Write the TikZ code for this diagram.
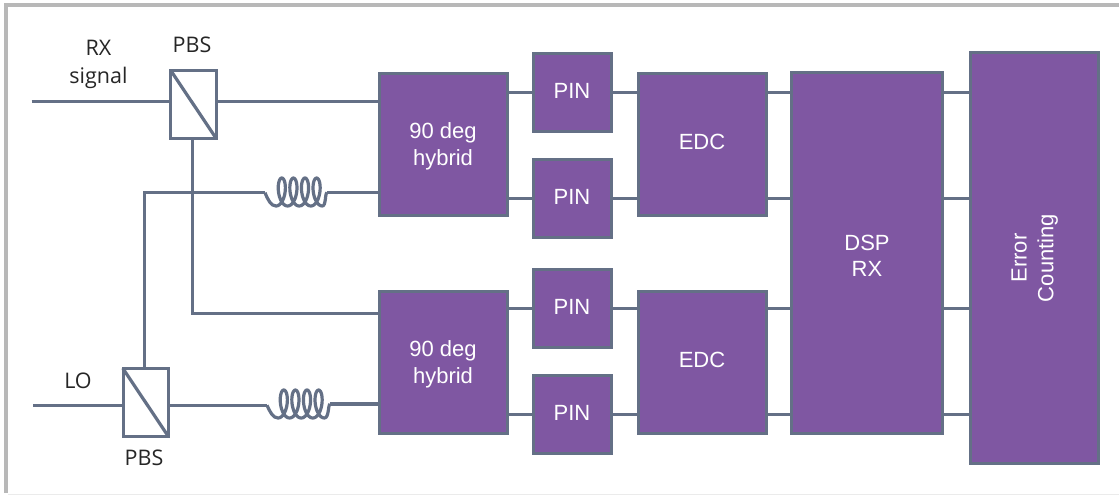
\documentclass[tikz,border=0pt]{standalone}
\usepackage{fontspec}
\setmainfont{Liberation Sans}
\newfontfamily\labelfont{Open Sans}
\definecolor{boxfill}{HTML}{7F57A2}
\definecolor{wire}{HTML}{647086}
\definecolor{framecol}{HTML}{B8B8B8}
\newcommand{\lowerfirst}{\rule{0pt}{19.5pt}}
\tikzset{
  bx/.style={draw=wire,fill=boxfill,line width=3pt,outer sep=0pt,inner sep=0pt,text=white,align=center,font=\fontsize{22}{26.7}\selectfont},
  pinbox/.style={bx,minimum width=78pt,minimum height=78pt,text depth=2.4pt},
  bigbox/.style={bx,minimum width=128pt,minimum height=142pt},
  pbsbox/.style={draw=wire,fill=white,line width=3pt,outer sep=0pt,inner sep=0pt,minimum width=45.5pt,minimum height=68pt},
  wireline/.style={draw=wire,line width=3.2pt},
  thinwire/.style={draw=wire,line width=2.8pt},
  lab/.style={text=black!85,align=center,inner sep=0pt,font=\labelfont\fontsize{21.5}{28}\selectfont}
}
\begin{document}
\begin{tikzpicture}[x=1pt,y=-1pt]
\useasboundingbox (0,0) rectangle (1119,495);
\fill[white] (0,0) rectangle (1119,495);
% frame
\draw[framecol,line width=3.6pt] (1119,5.3) -- (6,5.3) -- (6,493);
\draw[black!8,line width=1pt] (8,494) -- (1119,494);
% end points
\coordinate (rxin) at (31.5,101.5);
\coordinate (loin) at (33,405.3);
\coordinate (bendA) at (144.7,192.7);
\coordinate (bendB) at (192.7,313.3);
\coordinate (coilAl) at (265,192.7);
\coordinate (coilAr) at (327,192.7);
\coordinate (coilBl) at (267,405.3);
\coordinate (coilBr) at (330,404);
% boxes
\node[bigbox] (h1) at (443,144.5) {\lowerfirst 90 deg\\hybrid};
\node[bigbox] (h2) at (443,362.5) {\lowerfirst 90 deg\\hybrid};
\node[pinbox] (p1) at (572,92.5) {PIN};
\node[pinbox] (p2) at (572,198.5) {PIN};
\node[pinbox] (p3) at (572,308.5) {PIN};
\node[pinbox] (p4) at (572,414.5) {PIN};
\node[bigbox,text depth=5.4pt] (e1) at (702,144.5) {EDC};
\node[bigbox,text depth=5.4pt] (e2) at (702,362.5) {EDC};
\node[bx,minimum width=151pt,minimum height=361pt] (dsp) at (867,253) {\rule{0pt}{21pt}DSP\\RX};
\node[bx,minimum width=411pt,minimum height=128pt,rotate=90] (err) at (1034.7,258) {Error\\Counting};
\node[pbsbox] (s1) at (193.5,104.5) {};
\node[pbsbox] (s2) at (145.8,402.7) {};
% wires
\draw[wireline] (rxin) -- (rxin -| s1.west);
\draw[wireline] (rxin -| s1.east) -- (rxin -| h1.west);
\draw[wireline] (loin) -- (loin -| s2.west);
\draw[wireline] (loin -| s2.east) -- (coilBl);
\draw[wireline] (coilBr) -- (coilBr -| h2.west);
\draw[thinwire] (s1.south -| bendB) -- (bendB) -- (bendB -| h2.west);
\draw[wireline] (s2.north -| bendA) -- (bendA) -- (coilAl);
\draw[wireline] (coilAr) -- (coilAr -| h1.west);
\foreach \a/\b in {h1/p1,h1/p2,h2/p3,h2/p4}{\draw[wireline] (\a.east |- \b.west) -- (\b.west);}
\foreach \a/\b in {e1/p1,e1/p2,e2/p3,e2/p4}{\draw[wireline] (\b.east) -- (\a.west |- \b.east);}
\foreach \a/\b in {e1/p1,e1/p2,e2/p3,e2/p4}{\draw[wireline] (\a.east |- \b.east) -- (dsp.west |- \b.east);}
\foreach \b in {p1,p2,p3,p4}{\draw[wireline] (dsp.east |- \b.east) -- (err.north |- \b.east);}
% beam splitter diagonals
\draw[wireline,line cap=round] (s1.north west) -- (s1.south east);
\draw[wireline,line cap=round] (s2.north west) -- (s2.south east);
% fibre coils
\draw[wireline,line join=round] (coilAl) .. controls (268,200) and (271,206) .. (276,206)
  -- plot[domain=0:1440,samples=145,smooth] ({276+\x/360*11.6+6.2*sin(\x)},{192+14*cos(\x)})
  .. controls (326,206) and (325,193) .. (coilAr);
\draw[wireline,line join=round] (coilBl) .. controls (270,412) and (273,418) .. (278,418)
  -- plot[domain=0:1440,samples=145,smooth] ({278+\x/360*11.6+6.2*sin(\x)},{404+14*cos(\x)})
  .. controls (329,418) and (328,405) .. (coilBr);
% labels
\node[lab] (lrx) at (98.5,64.5) {RX\\signal};
\node[lab] (lp1) at (192,44.5) {PBS};
\node[lab] (llo) at (78,381) {LO};
\node[lab] (lp2) at (144,457.5) {PBS};
\end{tikzpicture}
\end{document}
